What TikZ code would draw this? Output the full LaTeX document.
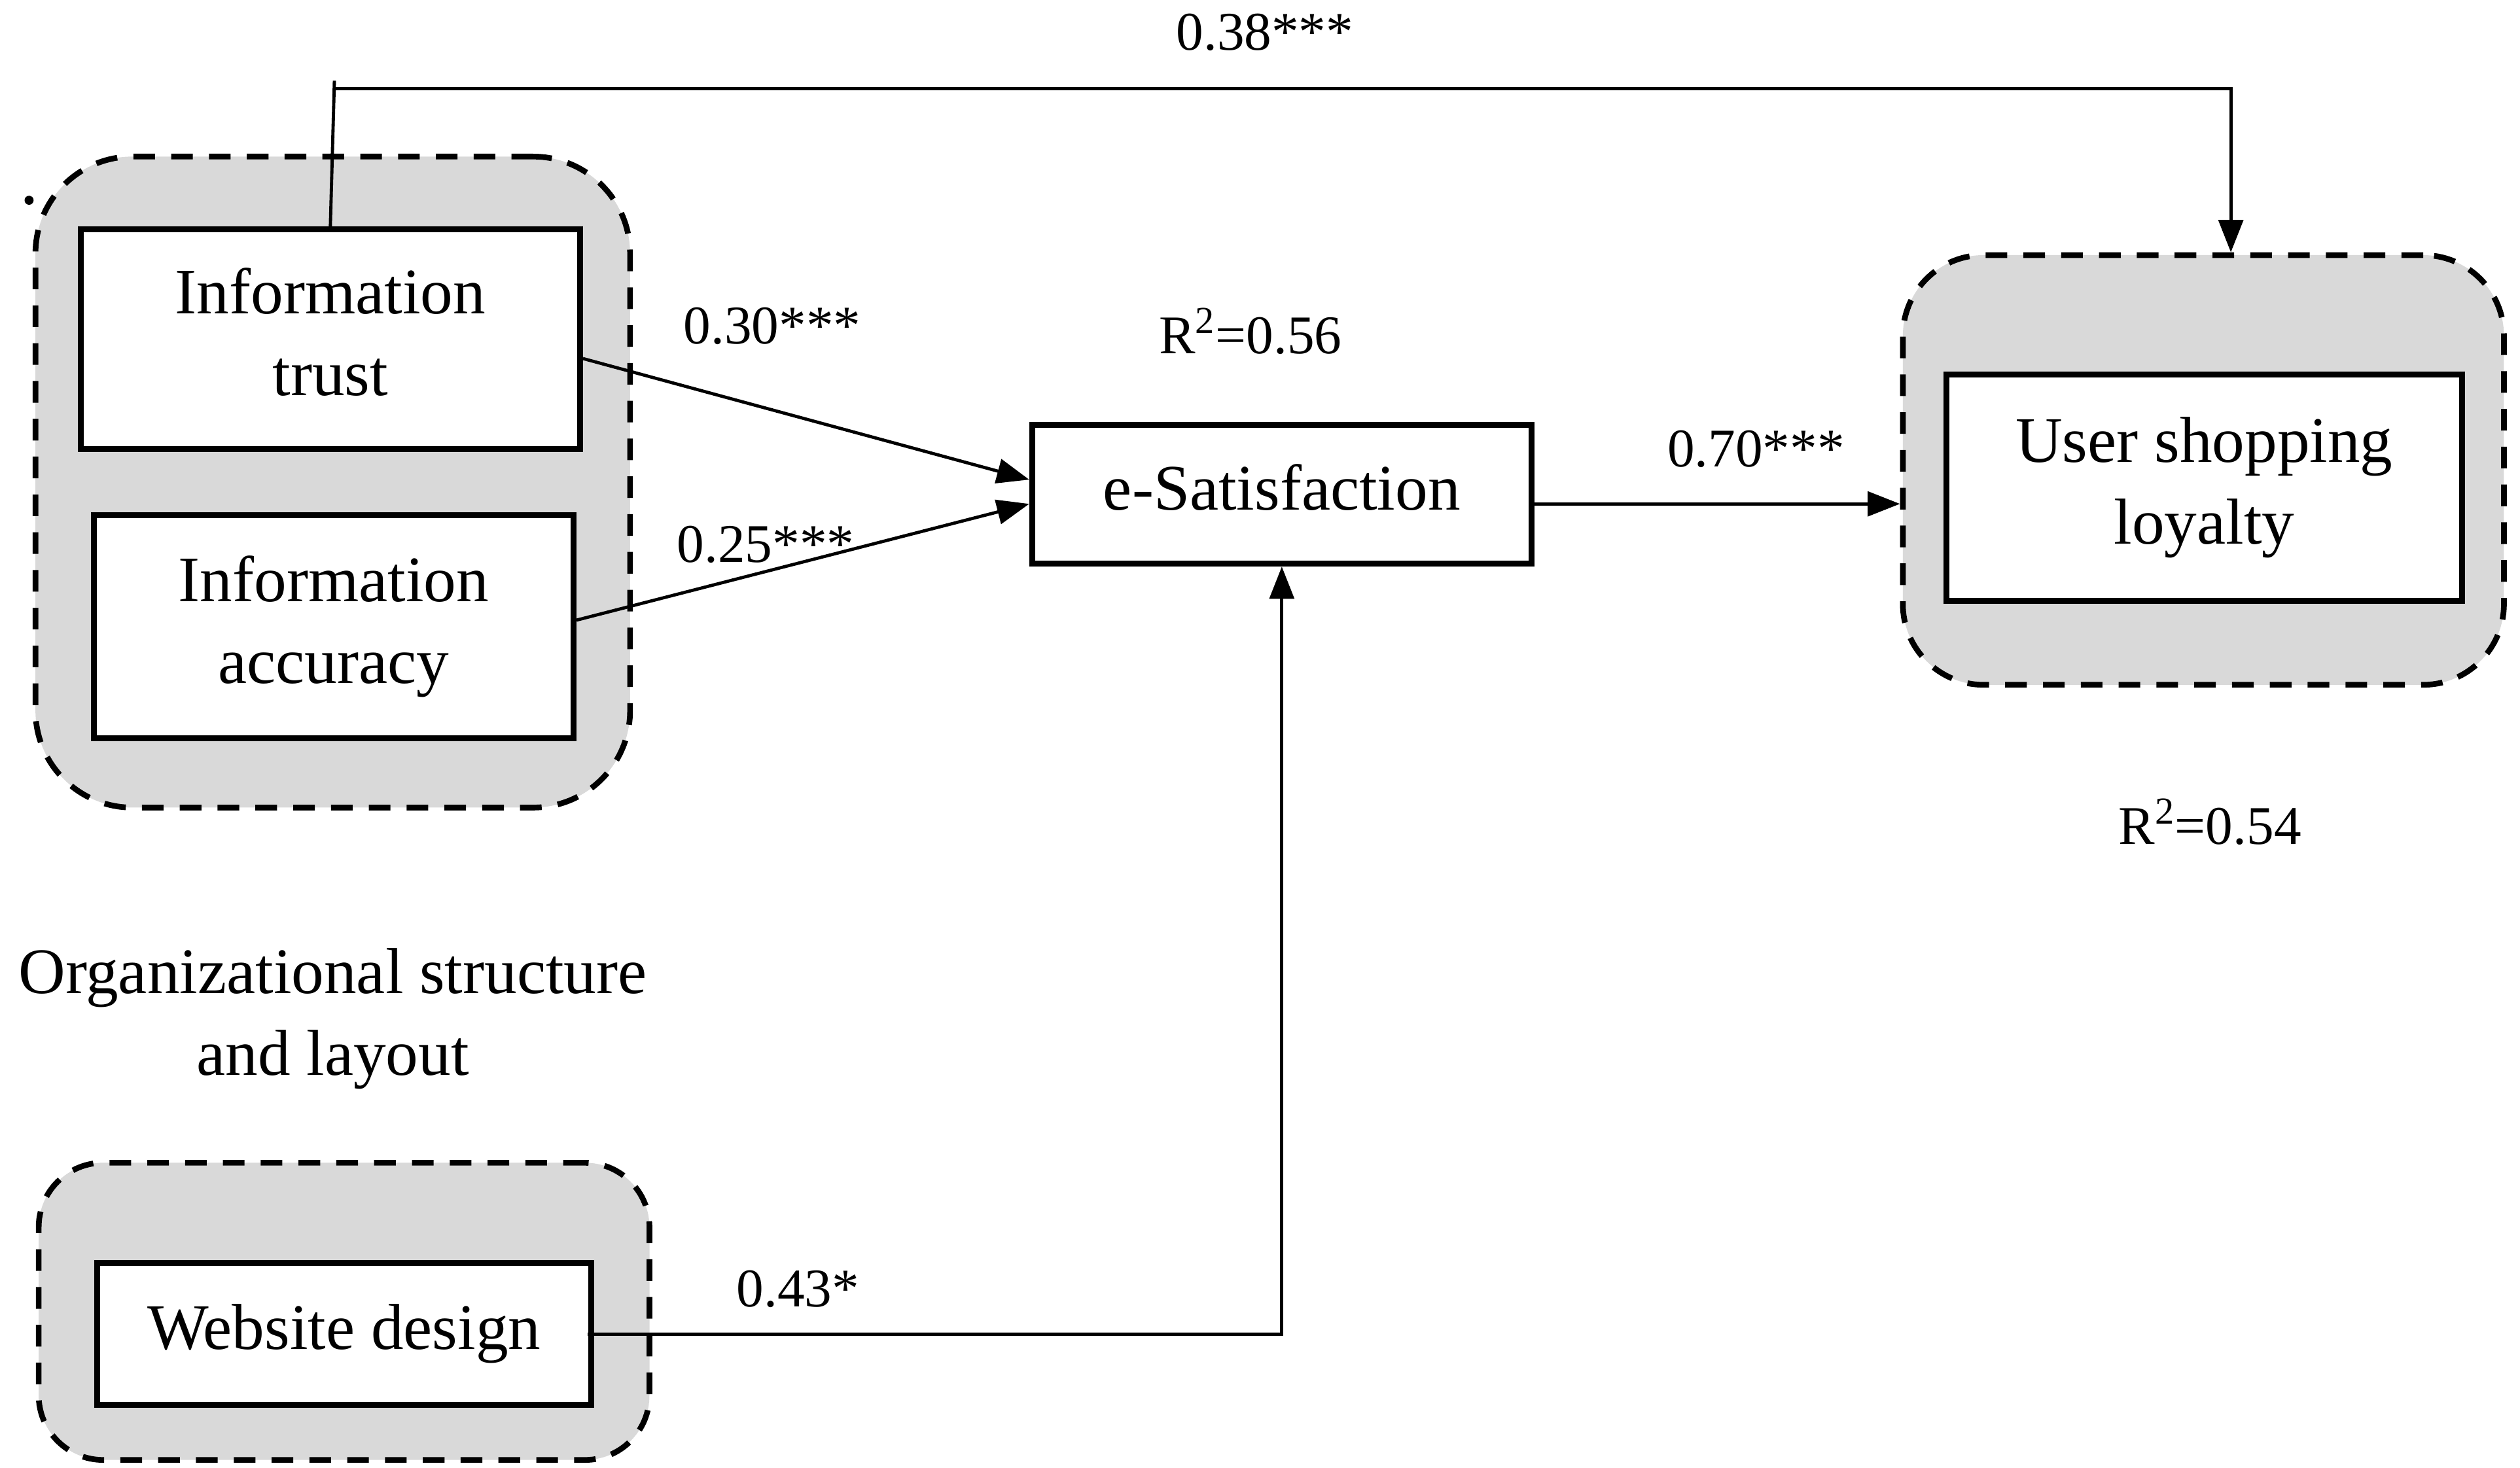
\documentclass[tikz,border=0pt]{standalone}
\usepackage{fontspec}
\setmainfont{Liberation Serif}
\usetikzlibrary{arrows.meta}
\definecolor{grp}{HTML}{D9D9D9}
\newcommand{\dpfix}{\rule[-6.4pt]{0pt}{0pt}}
\begin{document}
\begin{tikzpicture}[x=0.025cm,y=-0.025cm,
  group/.style={draw=black, fill=grp, line width=2.5pt, dash pattern=on 0.335cm off 0.25cm, rounded corners=#1, inner sep=0pt},
  group/.default=1.3cm,
  var/.style={draw=black, fill=white, line width=2.6pt, align=center, inner sep=0pt,
    font=\fontsize{28.6}{36}\selectfont},
  lab/.style={font=\fontsize{24}{29}\selectfont, inner sep=0pt},
  conn/.style={line width=1.4pt},
  arr/.style={conn, -{Triangle[length=0.5cm,width=0.38cm]}}]
\useasboundingbox (0,0) rectangle (1560,909);
% groups
\node[group=1.5cm, minimum width=9.2cm, minimum height=10.075cm] (lgrp) at (206,298.5) {};
\node[group=1.25cm, minimum width=9.3cm, minimum height=6.65cm] (lout) at (1364,291) {};
\node[group=1.0cm, minimum width=9.45cm, minimum height=4.6cm] (wout) at (213,812) {};
% variables
\node[var, minimum width=7.725cm, minimum height=3.4cm] (trust) at (204.5,210) {Information\\trust\dpfix};
\node[var, minimum width=7.425cm, minimum height=3.45cm] (acc) at (206.5,388) {Information\\accuracy};
\node[var, minimum width=7.725cm, minimum height=2.15cm] (esat) at (793.5,306) {e-Satisfaction\dpfix};
\node[var, minimum width=7.975cm, minimum height=3.5cm] (loy) at (1364.5,302) {User shopping\\loyalty};
\node[var, minimum width=7.65cm, minimum height=2.2cm] (wd) at (213,826) {Website design};
% stray dot
\fill (18,124) circle (0.07cm);
% free text
\node[font=\fontsize{28.6}{36}\selectfont, align=center, inner sep=0pt] (org) at (206,631) {Organizational structure\\and layout};
% labels
\node[lab] (l38) at (783,20) {0.38***};
\node[lab] (l30) at (478,202) {0.30***};
\node[lab] (r56) at (774,205) {R\textsuperscript{2}=0.56};
\node[lab] (l25) at (474,337) {0.25***};
\node[lab] (l70) at (1087,278) {0.70***};
\node[lab] (r54) at (1368,509) {R\textsuperscript{2}=0.54};
\node[lab] (l43) at (494,798) {0.43*};
% connectors
\coordinate (topstub) at (207,50);
\coordinate (topl) at (207,55);
\coordinate (topr) at (1381,55);
\draw[conn] (trust.north) -- (topstub);
\draw[arr] (topl) -- (topr) -- (topr |- lout.north);
\draw[arr] ([yshift=-0.3cm]trust.east) -- ([yshift=0.225cm]esat.west);
\draw[arr] ([yshift=0.1cm]acc.east) -- ([yshift=-0.15cm]esat.west);
\draw[arr] ([yshift=-0.15cm]esat.east) -- ([yshift=-0.15cm]esat.east -| lout.west);
\draw[arr] ([xshift=-0.1cm]wd.east) -- (wd.east -| esat.south) -- (esat.south);
\end{tikzpicture}
\end{document}
